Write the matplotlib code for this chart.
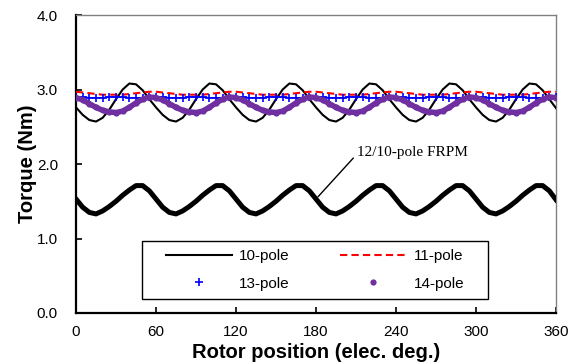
import numpy as np
import matplotlib
matplotlib.use("Agg")
import matplotlib.pyplot as plt
from matplotlib.patches import Rectangle

# ---- data ----
position = list(range(0, 365, 5))  # elec. deg.

pole10 = [2.76, 2.66, 2.59, 2.57, 2.62, 2.73, 2.87, 3.00, 3.08, 3.07, 2.99, 2.87,
          2.76, 2.66, 2.59, 2.57, 2.62, 2.73, 2.87, 3.00, 3.08, 3.07, 2.99, 2.87,
          2.76, 2.66, 2.59, 2.57, 2.62, 2.73, 2.87, 3.00, 3.08, 3.07, 2.99, 2.87,
          2.76, 2.66, 2.59, 2.57, 2.62, 2.73, 2.87, 3.00, 3.08, 3.07, 2.99, 2.87,
          2.76, 2.66, 2.59, 2.57, 2.62, 2.73, 2.87, 3.00, 3.08, 3.07, 2.99, 2.87,
          2.76, 2.66, 2.59, 2.57, 2.62, 2.73, 2.87, 3.00, 3.08, 3.07, 2.99, 2.87,
          2.75]
pole11 = [2.97, 2.96, 2.95, 2.94, 2.93, 2.93, 2.93, 2.93, 2.94, 2.95, 2.96, 2.97,
          2.97, 2.96, 2.95, 2.94, 2.93, 2.93, 2.93, 2.93, 2.94, 2.95, 2.96, 2.97,
          2.97, 2.96, 2.95, 2.94, 2.93, 2.93, 2.93, 2.93, 2.94, 2.95, 2.96, 2.97,
          2.97, 2.96, 2.95, 2.94, 2.93, 2.93, 2.93, 2.93, 2.94, 2.95, 2.96, 2.97,
          2.97, 2.96, 2.95, 2.94, 2.93, 2.93, 2.93, 2.93, 2.94, 2.95, 2.96, 2.97,
          2.97, 2.96, 2.95, 2.94, 2.93, 2.93, 2.93, 2.93, 2.94, 2.95, 2.96, 2.97,
          2.97]
pole13 = [2.90, 2.90, 2.89, 2.89, 2.89, 2.90, 2.90, 2.90, 2.89, 2.89, 2.89, 2.90,
          2.90, 2.90, 2.89, 2.89, 2.89, 2.90, 2.90, 2.90, 2.89, 2.89, 2.89, 2.90,
          2.90, 2.90, 2.89, 2.89, 2.89, 2.90, 2.90, 2.90, 2.89, 2.89, 2.89, 2.90,
          2.90, 2.90, 2.89, 2.89, 2.89, 2.90, 2.90, 2.90, 2.89, 2.89, 2.89, 2.90,
          2.90, 2.90, 2.89, 2.89, 2.89, 2.90, 2.90, 2.90, 2.89, 2.89, 2.89, 2.90,
          2.90, 2.90, 2.89, 2.89, 2.89, 2.90, 2.90, 2.90, 2.89, 2.89, 2.89, 2.90,
          2.90]
pole14 = [2.89, 2.86, 2.81, 2.76, 2.72, 2.70, 2.69, 2.71, 2.76, 2.82, 2.87, 2.90,
          2.89, 2.86, 2.81, 2.76, 2.72, 2.70, 2.69, 2.71, 2.76, 2.82, 2.87, 2.90,
          2.89, 2.86, 2.81, 2.76, 2.72, 2.70, 2.69, 2.71, 2.76, 2.82, 2.87, 2.90,
          2.89, 2.86, 2.81, 2.76, 2.72, 2.70, 2.69, 2.71, 2.76, 2.82, 2.87, 2.90,
          2.89, 2.86, 2.81, 2.76, 2.72, 2.70, 2.69, 2.71, 2.76, 2.82, 2.87, 2.90,
          2.89, 2.86, 2.81, 2.76, 2.72, 2.70, 2.69, 2.71, 2.76, 2.82, 2.87, 2.90,
          2.89]
frpm = [1.53, 1.42, 1.35, 1.33, 1.37, 1.43, 1.50, 1.58, 1.65, 1.71, 1.71, 1.64,
        1.53, 1.42, 1.35, 1.33, 1.37, 1.43, 1.50, 1.58, 1.65, 1.71, 1.71, 1.64,
        1.53, 1.42, 1.35, 1.33, 1.37, 1.43, 1.50, 1.58, 1.65, 1.71, 1.71, 1.64,
        1.53, 1.42, 1.35, 1.33, 1.37, 1.43, 1.50, 1.58, 1.65, 1.71, 1.71, 1.64,
        1.53, 1.42, 1.35, 1.33, 1.37, 1.43, 1.50, 1.58, 1.65, 1.71, 1.71, 1.64,
        1.53, 1.42, 1.35, 1.33, 1.37, 1.43, 1.50, 1.58, 1.65, 1.71, 1.71, 1.64,
        1.52]

x_ticks = [0, 60, 120, 180, 240, 300, 360]
y_ticks = [0.0, 1.0, 2.0, 3.0, 4.0]

plt.rcParams['font.family'] = ['Liberation Sans', 'DejaVu Sans']

fig = plt.figure(figsize=(5.74, 3.63), dpi=100)
ax = fig.add_axes([76/574, 1 - 313/363, 480/574, 298/363])

purple = '#7030a0'
h10, = ax.plot(position, pole10, color='black', lw=1.5, label='10-pole', zorder=3)
h11, = ax.plot(position, pole11, color='#ff0000', lw=1.5, dashes=(3.5, 2), label='11-pole', zorder=3)
ax.plot(position, pole13, color='#0000ff', lw=1.0, zorder=3)
h13, = ax.plot(position, pole13, color='#0000ff', ls='none', marker='+', ms=6, mew=1.2,
               label='13-pole', zorder=3)
ax.plot(position, pole14, color=purple, lw=4.0, zorder=3, solid_capstyle='round')
h14, = ax.plot(position, pole14, color=purple, ls='none', marker='o', ms=4.5, mew=0,
               label='14-pole', zorder=3)
ax.plot(position, frpm, color='black', lw=3.6, zorder=3)

ax.text(211, 2.15, '12/10-pole FRPM', fontsize=11,
        family=['Liberation Serif', 'DejaVu Serif'], va='center', ha='left')
ax.annotate('', xy=(181.5, 1.56), xytext=(208, 2.08),
            arrowprops=dict(arrowstyle='-', color='black', lw=1.0,
                            shrinkA=0, shrinkB=0))

ax.set_xlim(0, 360)
ax.set_ylim(0, 4)
ax.set_xticks(x_ticks)
ax.set_yticks(y_ticks)
ax.set_yticklabels([f'{v:.1f}' for v in y_ticks])
ax.tick_params(axis='both', direction='in', length=4, width=1.2, labelsize=11)
ax.tick_params(axis='y', pad=13)
ax.tick_params(axis='x', pad=9)

ax.set_xlabel('Rotor position (elec. deg.)', fontsize=14.5, fontweight='bold', labelpad=2.5)
ax.set_ylabel('Torque (Nm)', fontsize=14.5, fontweight='bold', labelpad=0)

for s in ['left', 'bottom']:
    ax.spines[s].set_linewidth(1.6)
    ax.spines[s].set_color('black')
for s in ['top', 'right']:
    ax.spines[s].set_linewidth(1.0)
    ax.spines[s].set_color('#808080')

# legend frame
rect = Rectangle((0.137, 0.047), 0.721, 0.195, transform=ax.transAxes,
                 facecolor='white', edgecolor='black', lw=1.0, zorder=4)
ax.add_patch(rect)
leg = ax.legend([h10, h13, h11, h14], ['10-pole', '13-pole', '11-pole', '14-pole'],
                loc='center', bbox_to_anchor=(0.498, 0.144), ncol=2, frameon=False,
                fontsize=11, handlelength=4.3, handletextpad=0.5, columnspacing=3.3,
                numpoints=1, labelspacing=0.88)
leg.set_zorder(5)

fig.savefig('out.png', dpi=100)
